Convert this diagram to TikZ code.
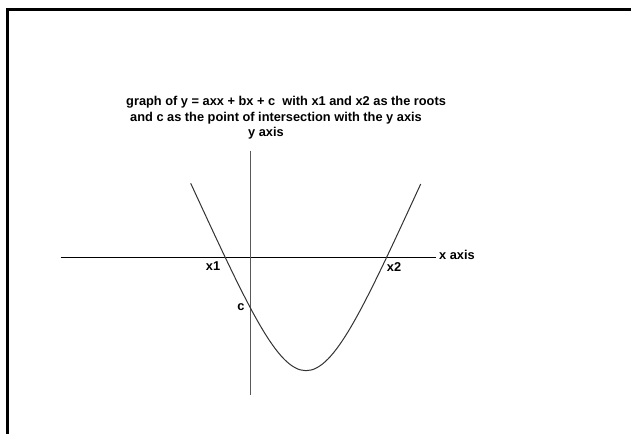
\documentclass[tikz,border=0pt]{standalone}
\usepackage{fontspec}
\setmainfont{Liberation Sans}
\begin{document}
\begin{tikzpicture}[x=1pt,y=-1pt,
  lbl/.style={inner sep=0pt, font=\bfseries\fontsize{12.8}{15}\selectfont},
  frame/.style={line width=3pt, black},
  axisline/.style={line width=1pt, black},
  curveline/.style={line width=1pt, black!80}]
\useasboundingbox (0,0) rectangle (631,434);
% frame (top and left only)
\coordinate (ftl) at (6,9.5);
\coordinate (ftr) at (631,9.5);
\coordinate (flt) at (7.5,8);
\coordinate (flb) at (7.5,434);
\draw[frame] (ftl) -- (ftr);
\draw[frame] (flt) -- (flb);
% title
\node[lbl, anchor=base west] (t1) at (126,105) {graph of y = axx + bx + c\ \ with x1 and x2 as the roots};
\node[lbl, anchor=base west] (t2) at (130,121) {and c as the point of intersection with the y axis};
% axes
\coordinate (xa0) at (60.7,257.3);
\coordinate (xa1) at (436,257.3);
\coordinate (ya0) at (250,150.7);
\coordinate (ya1) at (250,395);
\draw[axisline] (xa0) -- (xa1);
\draw[axisline, black!65] (ya0) -- (ya1);
\node[lbl, anchor=base west] (xlab) at (439,259) {x axis};
\node[lbl, anchor=base] (ylab) at (266,136) {y axis};
% curve
\coordinate (cL) at (190.7,183.3);
\coordinate (cR) at (420.7,184);
\coordinate (cc) at (306,433);
\draw[curveline] (cL) .. controls (cc) and (cc) .. (cR);
% labels
\node[lbl, anchor=base] (x1) at (213,270) {x1};
\node[lbl, anchor=base] (x2) at (394,271) {x2};
\node[lbl, anchor=base] (c) at (241,310.5) {c};
\end{tikzpicture}
\end{document}
